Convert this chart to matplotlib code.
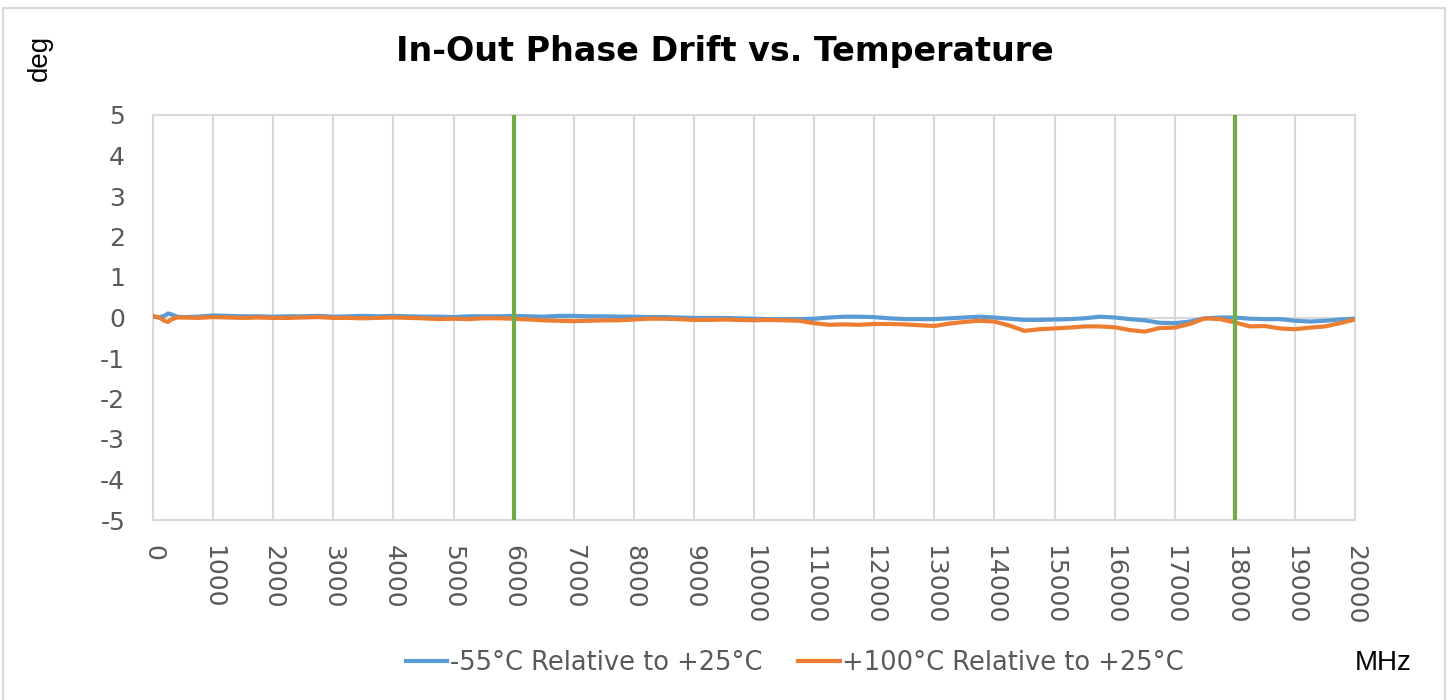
import numpy as np
import matplotlib
matplotlib.use("Agg")
import matplotlib.pyplot as plt
from matplotlib.patches import Rectangle

plt.rcParams["axes.unicode_minus"] = False

#-------------------------------------------------------------
# data (MHz, deg)
#-------------------------------------------------------------
freq_mhz = [0, 100, 200, 250, 300, 400, 500,
            750, 1000, 1250, 1500, 1750, 2000, 2250, 2500, 2750, 3000,
            3250, 3500, 3750, 4000, 4250, 4500, 4750, 5000, 5250, 5500,
            5750, 6000, 6250, 6500, 6750, 7000, 7250, 7500, 7750, 8000,
            8250, 8500, 8750, 9000, 9250, 9500, 9750, 10000, 10250, 10500,
            10750, 11000, 11250, 11500, 11750, 12000, 12250, 12500, 12750, 13000,
            13250, 13500, 13750, 14000, 14250, 14500, 14750, 15000, 15250, 15500,
            15750, 16000, 16250, 16500, 16750, 17000, 17250, 17500, 17750, 18000,
            18250, 18500, 18750, 19000, 19250, 19500, 19750, 20000]

drift_cold = [0.02, 0.00, 0.05, 0.10, 0.08, 0.02, 0.01,
              0.02, 0.05, 0.04, 0.03, 0.03, 0.02, 0.03, 0.03, 0.04, 0.02,
              0.03, 0.04, 0.03, 0.04, 0.03, 0.02, 0.02, 0.01, 0.03, 0.03,
              0.03, 0.04, 0.03, 0.02, 0.04, 0.04, 0.03, 0.03, 0.02, 0.02,
              0.01, 0.01, 0.00, -0.01, -0.01, -0.01, -0.02, -0.03, -0.04, -0.04,
              -0.04, -0.03, 0.00, 0.02, 0.02, 0.01, -0.02, -0.04, -0.04, -0.04,
              -0.02, 0.00, 0.02, 0.00, -0.03, -0.06, -0.06, -0.05, -0.04, -0.02,
              0.02, 0.00, -0.04, -0.07, -0.13, -0.14, -0.10, -0.02, 0.00, 0.00,
              -0.03, -0.04, -0.04, -0.08, -0.10, -0.08, -0.05, -0.03]

drift_hot = [0.04, 0.00, -0.09, -0.11, -0.05, 0.00, 0.00,
             -0.01, 0.01, 0.00, -0.01, 0.00, -0.01, -0.01, 0.00, 0.01, -0.01,
             -0.01, -0.02, -0.01, 0.00, -0.01, -0.02, -0.04, -0.03, -0.04, -0.02,
             -0.02, -0.03, -0.05, -0.07, -0.08, -0.09, -0.08, -0.07, -0.07, -0.05,
             -0.03, -0.03, -0.04, -0.06, -0.06, -0.05, -0.06, -0.07, -0.06, -0.07,
             -0.08, -0.14, -0.18, -0.17, -0.18, -0.16, -0.16, -0.17, -0.19, -0.21,
             -0.15, -0.11, -0.08, -0.10, -0.20, -0.33, -0.29, -0.27, -0.25, -0.22,
             -0.22, -0.24, -0.31, -0.35, -0.26, -0.25, -0.16, -0.02, -0.04, -0.12,
             -0.22, -0.21, -0.27, -0.29, -0.25, -0.22, -0.14, -0.05]

band_edges = [6000, 18000]
x_ticks = list(range(0, 20001, 1000))
y_ticks = [5, 4, 3, 2, 1, 0, -1, -2, -3, -4, -5]

series_labels = ["-55\u00b0C Relative to +25\u00b0C", "+100\u00b0C Relative to +25\u00b0C"]

#-------------------------------------------------------------
# plot
#-------------------------------------------------------------
fig = plt.figure(figsize=(14.49, 7), dpi=100)
ax = fig.add_axes([153/1449, 1-520/700, 1202/1449, 405/700])

grid_col = "#D9D9D9"
for xt in x_ticks:
    ax.axvline(xt, color=grid_col, lw=1.5, zorder=0)
ax.axhline(0, color=grid_col, lw=1.5, zorder=0)

l1, = ax.plot(freq_mhz, drift_cold, color="#5B9BD5", lw=3, zorder=3)
l2, = ax.plot(freq_mhz, drift_hot, color="#ED7D31", lw=3, zorder=4)
for f in band_edges:
    ax.axvline(f, color="#70AD47", lw=3, zorder=5)

ax.set_xlim(0, 20000)
ax.set_ylim(-5, 5)
ax.set_xticks(x_ticks)
ax.set_yticks(y_ticks)
ax.set_xticklabels([str(t) for t in x_ticks], rotation=270, va="top", ha="center")
ax.tick_params(axis="both", length=0, labelsize=18, labelcolor="#595959")
ax.tick_params(axis="y", pad=20)
ax.tick_params(axis="x", pad=18)
for s in ax.spines.values():
    s.set_color(grid_col)
    s.set_linewidth(1.5)

fig.text(0.5, 1-52/700, "In-Out Phase Drift vs. Temperature", ha="center", va="center",
         fontsize=24, fontweight="bold", color="black")
fig.text(40/1449, 1-58/700, "deg", rotation=90, ha="center", va="center",
         fontsize=20, family="Liberation Sans")
fig.text(1383/1449, 1-663/700, "MHz", ha="center", va="center",
         fontsize=20, family="Liberation Sans")

fig.legend([l1, l2], series_labels, loc="center", bbox_to_anchor=(795/1449, 1-663/700),
           ncol=2, frameon=False, fontsize=18.5, handlelength=1.6, handletextpad=0.1,
           columnspacing=1.4, labelcolor="#595959")

fig.add_artist(Rectangle((3/1449, -0.01), 1442/1449, 1-8/700+0.01, transform=fig.transFigure,
                         fill=False, ec=grid_col, lw=1.5))

fig.savefig("out.png", dpi=100)
